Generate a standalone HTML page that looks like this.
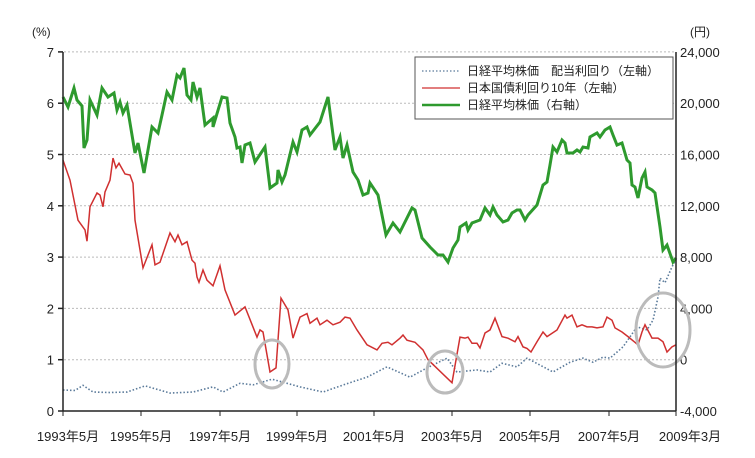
<!DOCTYPE html>
<html><head><meta charset="utf-8"><style>
body{margin:0;background:#fff}
svg text{font-family:"Liberation Sans","Noto Sans CJK JP",sans-serif;fill:#222}
</style></head><body>
<svg id="s" width="755" height="453" xmlns="http://www.w3.org/2000/svg">
<rect width="755" height="453" fill="#fff"/>
<g id="grid" stroke="#bbb" stroke-dasharray="2,2" stroke-width="1"></g>
<g id="ax"></g>
<path id="blue" fill="none" stroke="#5a7a9a" stroke-width="1.6" stroke-dasharray="1.5,2"/>
<path id="red" fill="none" stroke="#d03030" stroke-width="1.5"/>
<path id="green" fill="none" stroke="#2e9a2e" stroke-width="3"/>
<g fill="none" stroke="#bbb" stroke-width="3">
<ellipse cx="272" cy="364" rx="17" ry="24"/>
<ellipse cx="445" cy="372" rx="18" ry="21"/>
<ellipse cx="663" cy="330" rx="27" ry="37"/>
</g>
<line x1="63" y1="52" x2="63" y2="411" stroke="#222" stroke-width="1.5"/>
<line x1="676" y1="52" x2="676" y2="411" stroke="#222" stroke-width="1.5"/>
<line x1="63" y1="411" x2="676" y2="411" stroke="#222" stroke-width="1.5"/>
<rect x="415" y="57" width="258" height="62" fill="#fff" stroke="#555" stroke-width="1"/>
<line x1="422" y1="71" x2="460" y2="71" stroke="#5a7a9a" stroke-dasharray="1.5,2" stroke-width="1.2"/>
<line x1="422" y1="88" x2="460" y2="88" stroke="#d03030" stroke-width="1.2"/>
<line x1="422" y1="105" x2="460" y2="105" stroke="#2e9a2e" stroke-width="2.5"/>
<text x="467" y="75" font-size="12">日経平均株価　配当利回り（左軸）</text>
<text x="467" y="92" font-size="12">日本国債利回り10年（左軸）</text>
<text x="467" y="109" font-size="12">日経平均株価（右軸）</text>
<text x="32" y="36" font-size="12">(%)</text>
<text x="690" y="36" font-size="12">(円)</text>
</svg>
<script>
var s=document.getElementById('s'),ns='http://www.w3.org/2000/svg';
function Y(v){return 411-51.3*v}
function t(x,y,str,a){var e=document.createElementNS(ns,'text');e.setAttribute('x',x);e.setAttribute('y',y);e.setAttribute('font-size','13');if(a)e.setAttribute('text-anchor',a);e.textContent=str;document.getElementById('ax').appendChild(e);}
var rl=['-4,000','0','4,000','8,000','12,000','16,000','20,000','24,000'];
for(var i=0;i<=7;i++){var y=Y(i);
 if(i>0){var l=document.createElementNS(ns,'line');l.setAttribute('x1',64);l.setAttribute('x2',676);l.setAttribute('y1',y);l.setAttribute('y2',y);document.getElementById('grid').appendChild(l);}
 var k=document.createElementNS(ns,'line');k.setAttribute('x1',58);k.setAttribute('x2',63);k.setAttribute('y1',y);k.setAttribute('y2',y);k.setAttribute('stroke','#222');k.setAttribute('stroke-width','1.5');document.getElementById('ax').appendChild(k);
 t(54,y+5,String(i),'end');t(680,y+5,rl[i]);}
var xt=[63,141,220,297,374,452,530,609,676],xl=['1993年5月','1995年5月','1997年5月','1999年5月','2001年5月','2003年5月','2005年5月','2007年5月','2009年3月'];
for(var i=0;i<xt.length;i++){var k=document.createElementNS(ns,'line');k.setAttribute('x1',xt[i]);k.setAttribute('x2',xt[i]);k.setAttribute('y1',411);k.setAttribute('y2',416);k.setAttribute('stroke','#222');document.getElementById('ax').appendChild(k);
 var x=xt[i];if(i==0)x=68;if(i==8)x=690;t(x,441,xl[i],'middle');}
function P(a,f){var d='';for(var i=0;i<a.length;i+=2)d+=(i?'L':'M')+a[i]+','+(f?Y(a[i+1]):a[i+1]);return d;}
var g=[63,97,68,107,74,88,77,100,82,106,84,148,87,140,90,100,97,115,102,88,108,97,114,93,117,110,120,102,123,113,127,105,135,153,138,143,144,173,152,127,158,133,162,115,167,92,172,100,177,75,180,78,184,68,187,95,191,100,193,82,197,97,200,88,205,125,213,118,213,127,222,97,227,98,230,123,235,137,237,148,240,147,242,163,245,145,250,143,255,162,265,147,270,188,277,183,278,170,282,182,285,175,293,142,297,152,302,130,307,127,310,135,320,122,328,97,335,150,340,137,343,158,347,145,353,172,358,180,363,195,368,193,370,183,378,195,386,235,393,223,400,232,412,208,415,210,422,238,430,247,435,252,438,255,443,255,448,262,453,248,458,240,460,227,466,223,468,230,472,223,480,220,485,208,490,215,493,207,497,215,503,222,508,220,512,213,517,210,520,210,525,220,528,215,537,205,543,185,547,182,550,165,553,147,557,152,562,140,565,143,567,153,573,153,577,150,580,152,583,147,588,148,590,137,597,133,600,137,605,130,610,127,613,135,617,145,622,143,627,160,630,163,632,185,635,187,638,198,642,178,645,172,647,187,652,190,655,193,660,227,663,250,667,245,673,262,676,258];
document.getElementById('green').setAttribute('d',P(g,0));
var r=[63,4.89,70,4.5,78,3.72,85,3.53,87,3.31,90,3.98,97,4.25,100,4.21,103,3.98,105,4.27,110,4.5,113,4.93,116,4.74,119,4.83,125,4.62,130,4.6,133,4.44,135,3.72,143,2.79,152,3.24,155,2.85,160,2.9,170,3.47,175,3.3,178,3.43,182,3.24,187,3.3,192,2.94,195,2.88,197,2.61,199,2.51,203,2.75,207,2.55,213,2.44,220,2.83,225,2.36,235,1.87,245,2.03,257,1.44,260,1.58,263,1.54,270,0.76,276,0.84,281,2.2,288,1.97,293,1.42,300,1.83,307,1.9,310,1.71,317,1.81,320,1.68,327,1.77,333,1.68,340,1.73,345,1.83,350,1.81,357,1.58,367,1.29,377,1.19,382,1.32,388,1.34,392,1.29,400,1.42,403,1.48,407,1.38,415,1.34,423,1.19,428,1.0,452,0.55,460,1.44,465,1.42,468,1.44,472,1.32,477,1.32,480,1.23,485,1.52,490,1.58,495,1.81,502,1.45,508,1.42,515,1.35,518,1.45,523,1.25,527,1.22,531,1.15,537,1.35,543,1.54,547,1.45,557,1.58,565,1.87,567,1.81,572,1.87,577,1.64,582,1.68,587,1.64,592,1.64,597,1.62,603,1.64,607,1.83,612,1.77,615,1.62,622,1.54,628,1.45,638,1.29,642,1.54,645,1.68,652,1.42,658,1.42,663,1.35,667,1.15,672,1.25,676,1.29];
document.getElementById('red').setAttribute('d',P(r,1));
var b=[63,0.41,75,0.4,83,0.5,93,0.37,110,0.36,127,0.37,145,0.49,170,0.35,193,0.37,213,0.47,223,0.37,240,0.54,253,0.51,272,0.62,287,0.54,300,0.47,323,0.37,345,0.52,367,0.66,387,0.86,410,0.66,427,0.84,447,1.03,457,0.76,477,0.8,490,0.76,502,0.93,517,0.86,527,1.03,553,0.76,570,0.95,583,1.03,593,0.95,603,1.05,610,1.03,623,1.25,637,1.64,647,1.58,653,1.77,658,2.22,660,2.59,665,2.5,672,2.81,676,2.95];
document.getElementById('blue').setAttribute('d',P(b,1));
</script>
</body></html>
